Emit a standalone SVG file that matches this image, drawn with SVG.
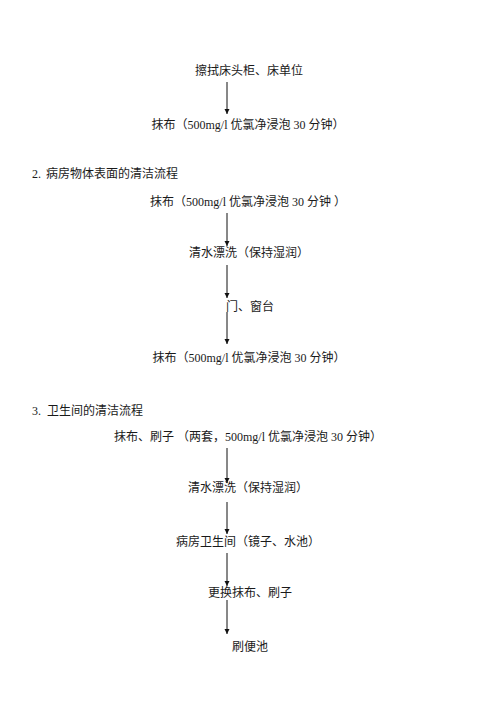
<svg xmlns="http://www.w3.org/2000/svg" width="500" height="707" viewBox="0 0 500 707">
<style>
text{font-family:"Liberation Serif","Noto Sans CJK SC",serif;font-size:12px;fill:#1a1a1a}
.c{text-anchor:middle}
.ln{stroke:#111;stroke-width:1;fill:none}
</style>
<defs>
<marker id="ah" markerWidth="6" markerHeight="6" refX="5" refY="3" orient="auto" markerUnits="userSpaceOnUse">
<path d="M0,0.5 L5,3 L0,5.5 Z" fill="#111"/>
</marker>
</defs>
<rect width="500" height="707" fill="#fff"/>
<g id="connectors">
<line class="ln" x1="227" y1="82" x2="227" y2="114" marker-end="url(#ah)"/>
<line class="ln" x1="227" y1="213" x2="227" y2="246" marker-end="url(#ah)"/>
<line class="ln" x1="227" y1="265" x2="227" y2="298" marker-end="url(#ah)"/>
<line class="ln" x1="227" y1="312" x2="227" y2="344" marker-end="url(#ah)"/>
<line class="ln" x1="227" y1="448" x2="227" y2="483" marker-end="url(#ah)"/>
<line class="ln" x1="227" y1="502" x2="227" y2="534" marker-end="url(#ah)"/>
<line class="ln" x1="227" y1="553" x2="227" y2="586" marker-end="url(#ah)"/>
<line class="ln" x1="227" y1="600" x2="227" y2="634" marker-end="url(#ah)"/>
</g>
<g id="n1"><text class="c" x="249" y="75">擦拭床头柜、床单位</text></g>
<g id="n2"><text class="c" x="248" y="129">抹布（500mg/l 优氯净浸泡 30 分钟）</text></g>
<g id="h2"><text x="32" y="178">2.<tspan x="46">病房物体表面的清洁流程</tspan></text></g>
<g id="n3"><text class="c" x="248" y="206">抹布（500mg/l 优氯净浸泡 30 分钟 ）</text></g>
<g id="n4"><text class="c" x="249" y="257">清水漂洗（保持湿润）</text></g>
<g id="n5"><text class="c" x="250" y="311">门、窗台</text></g>
<g id="n6"><text class="c" x="249" y="362">抹布（500mg/l 优氯净浸泡 30 分钟）</text></g>
<g id="h3"><text x="32" y="415">3.<tspan x="47">卫生间的清洁流程</tspan></text></g>
<g id="n7"><text class="c" x="248" y="441">抹布、刷子 （两套，500mg/l 优氯净浸泡 30 分钟）</text></g>
<g id="n8"><text class="c" x="248" y="492">清水漂洗（保持湿润）</text></g>
<g id="n9"><text class="c" x="248" y="546">病房卫生间（镜子、水池）</text></g>
<g id="n10"><text class="c" x="250" y="597">更换抹布、刷子</text></g>
<g id="n11"><text class="c" x="250" y="651">刷便池</text></g>
</svg>
